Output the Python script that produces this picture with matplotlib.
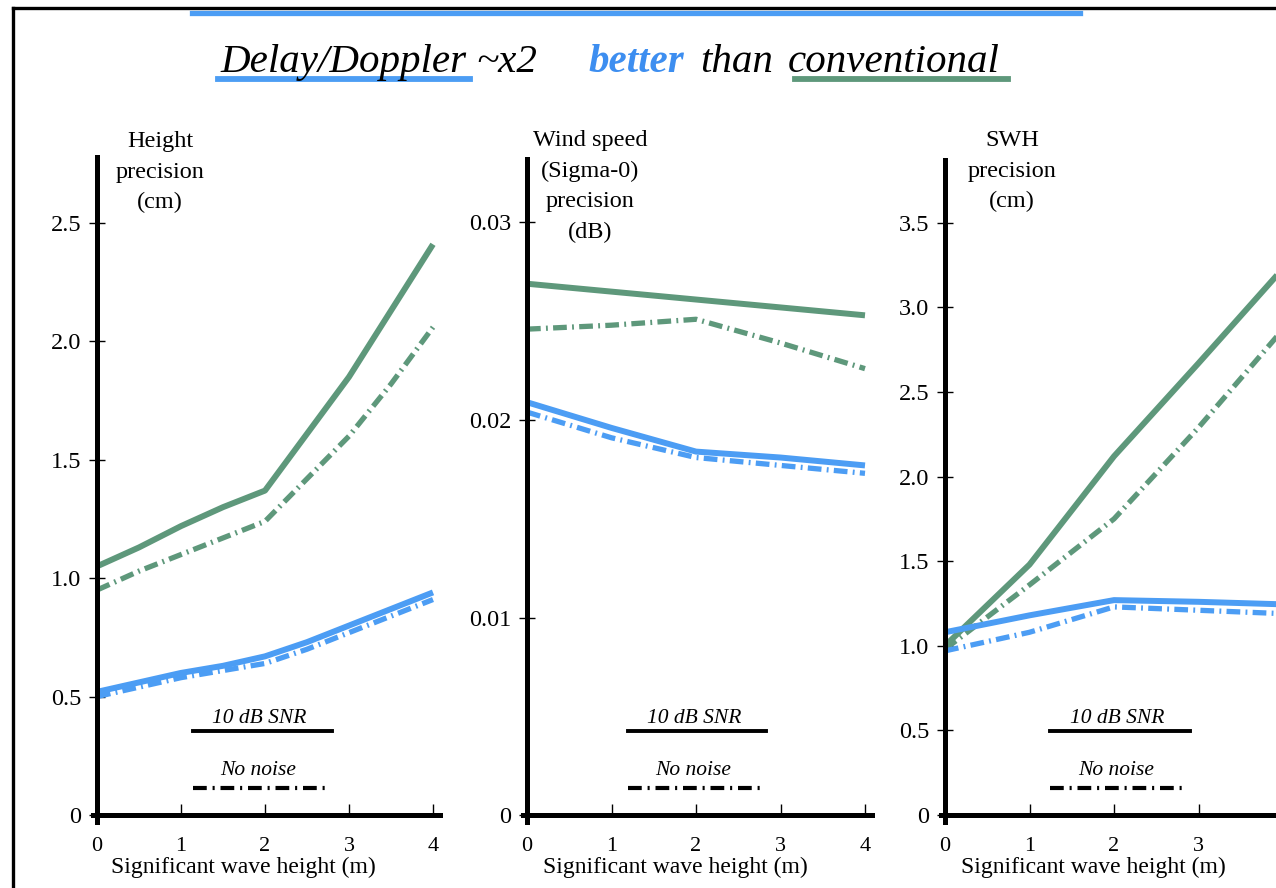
import matplotlib.pyplot as plt
from matplotlib.lines import Line2D

# figure size in pixels (dpi 100)
W, H = 1276, 888
GREEN = "#5E987B"
BLUE = "#4C9DF4"

# --- data ---
swh_fine = [0, 0.5, 1, 1.5, 2, 2.5, 3, 3.5, 4]
height_conv_snr = [1.05, 1.13, 1.22, 1.30, 1.37, 1.61, 1.85, 2.13, 2.41]
height_conv_clean = [0.95, 1.03, 1.10, 1.17, 1.24, 1.42, 1.60, 1.82, 2.06]
height_dd_snr = [0.52, 0.56, 0.60, 0.63, 0.67, 0.73, 0.80, 0.87, 0.94]
height_dd_clean = [0.50, 0.54, 0.58, 0.61, 0.64, 0.70, 0.77, 0.84, 0.91]

swh = [0, 1, 2, 3, 4]
wind_conv_snr = [0.0269, 0.0265, 0.0261, 0.0257, 0.0253]
wind_conv_clean = [0.0246, 0.0248, 0.0251, 0.0239, 0.0226]
wind_dd_snr = [0.0209, 0.0196, 0.0184, 0.0181, 0.0177]
wind_dd_clean = [0.0204, 0.0191, 0.0181, 0.0177, 0.0173]

swh_conv_snr = [1.00, 1.48, 2.12, 2.67, 3.23]
swh_conv_clean = [0.98, 1.36, 1.75, 2.29, 2.87]
swh_dd_snr = [1.08, 1.18, 1.27, 1.26, 1.245]
swh_dd_clean = [0.97, 1.08, 1.23, 1.21, 1.19]

height_ticks = [0, 0.5, 1.0, 1.5, 2.0, 2.5]
height_tick_labels = ["0", "0.5", "1.0", "1.5", "2.0", "2.5"]
wind_ticks = [0, 0.01, 0.02, 0.03]
wind_tick_labels = ["0", "0.01", "0.02", "0.03"]
swhp_ticks = [0, 0.5, 1.0, 1.5, 2.0, 2.5, 3.0, 3.5]
swhp_tick_labels = ["0", "0.5", "1.0", "1.5", "2.0", "2.5", "3.0", "3.5"]
x_ticks = [0, 1, 2, 3, 4]

plt.rcParams['font.family'] = ['Liberation Serif', 'DejaVu Serif']

fig = plt.figure(figsize=(W / 100, H / 100), dpi=100)


def fx(x):
    return x / W


def fy(y):
    return 1 - y / H


def make_panel(x0, x_unit, y_unit, ymax, yticks, ylabels):
    # x0: pixel position of x=0, y axis zero sits at pixel row 815
    x_lo, x_hi = -0.05, 4.08
    y_lo = -7.0 / y_unit
    left = x0 + x_lo * x_unit
    width = (x_hi - x_lo) * x_unit
    bottom = 815 - y_lo * y_unit
    height = (ymax - y_lo) * y_unit
    ax = fig.add_axes([fx(left), fy(bottom), width / W, height / H])
    ax.set_xlim(x_lo, x_hi)
    ax.set_ylim(y_lo, ymax)
    for s in ["top", "right"]:
        ax.spines[s].set_visible(False)
    ax.spines["left"].set_position(("data", 0))
    ax.spines["bottom"].set_position(("data", 0))
    ax.spines["left"].set_linewidth(3.6)
    ax.spines["bottom"].set_linewidth(3.6)
    ax.set_xticks(x_ticks)
    ax.set_xticklabels([str(t) for t in x_ticks])
    ax.set_yticks(yticks)
    ax.set_yticklabels(ylabels)
    ax.tick_params(axis="y", direction="inout", length=11, width=1.0,
                   pad=6, labelsize=17.5)
    ax.tick_params(axis="x", direction="in", length=8, width=1.0,
                   pad=16, labelsize=16)
    ax.patch.set_alpha(0)
    return ax


def draw_series(ax, x, snr_conv, clean_conv, snr_dd, clean_dd):
    dashdot = (0, (2.6, 1.0, 0.35, 1.0))
    ax.plot(x, snr_conv, color=GREEN, lw=4.3, solid_capstyle="butt")
    ax.plot(x, clean_conv, color=GREEN, lw=3.8, linestyle=dashdot)
    ax.plot(x, snr_dd, color=BLUE, lw=4.3, solid_capstyle="butt")
    ax.plot(x, clean_dd, color=BLUE, lw=3.8, linestyle=dashdot)


def legend_block(x_start, x_end):
    cx = (x_start + x_end) / 2
    fig.text(fx(cx - 3), fy(723), "10 dB SNR", ha="center", va="baseline",
             fontsize=15.5, style="italic")
    fig.add_artist(Line2D([fx(x_start), fx(x_end)], [fy(731), fy(731)],
                          color="black", lw=2.8))
    fig.text(fx(cx - 4), fy(775), "No noise", ha="center", va="baseline",
             fontsize=15.5, style="italic")
    fig.add_artist(Line2D([fx(x_start), fx(x_end - 5)], [fy(788), fy(788)],
                          color="black", lw=3.0,
                          linestyle=(0, (3.3, 1.4, 0.5, 1.4))))


# 1. Height precision panel
ax1 = make_panel(97, 84, 236.8, 2.78, height_ticks, height_tick_labels)
draw_series(ax1, swh_fine, height_conv_snr, height_conv_clean,
            height_dd_snr, height_dd_clean)

# 2. Wind speed (sigma-0) panel
ax2 = make_panel(527, 84.5, 19750, 0.0332, wind_ticks, wind_tick_labels)
draw_series(ax2, swh, wind_conv_snr, wind_conv_clean,
            wind_dd_snr, wind_dd_clean)

# 3. SWH precision panel (cut at the right edge like the slide)
ax3 = make_panel(945, 84.5, 169.2, 3.87, swhp_ticks, swhp_tick_labels)
draw_series(ax3, swh, swh_conv_snr, swh_conv_clean,
            swh_dd_snr, swh_dd_clean)

# y axis titles
ylab_kw = dict(ha="center", va="top", fontsize=17.5, linespacing=1.6)
fig.text(fx(160), fy(131), "Height\nprecision\n(cm)", **ylab_kw)
fig.text(fx(590), fy(130), "Wind speed\n(Sigma-0)\nprecision\n(dB)", **ylab_kw)
fig.text(fx(1012), fy(130), "SWH\nprecision\n(cm)", **ylab_kw)

# x axis titles
for cx in [243, 675, 1093]:
    fig.text(fx(cx), fy(873), "Significant wave height (m)", ha="center",
             va="baseline", fontsize=17)

# legend blocks
legend_block(193, 332)
legend_block(628, 766)
legend_block(1050, 1190)

# slide frame and top accent line
fig.add_artist(Line2D([fx(13), fx(13)], [0, fy(8)], color="black", lw=2.4))
fig.add_artist(Line2D([fx(13), 1], [fy(8), fy(8)], color="black", lw=2.4))
fig.add_artist(Line2D([fx(192), fx(1080)], [fy(13), fy(13)], color=BLUE, lw=3.8))

# headline
fig.text(fx(220), fy(72), "Delay/Doppler", fontsize=29.5, style="italic", va="baseline")
fig.text(fx(476), fy(72), "~x2", fontsize=29.5, style="italic", va="baseline")
fig.text(fx(588), fy(72), "better", fontsize=29.5, style="italic", weight="bold",
         color="#3D8EF0", va="baseline")
fig.text(fx(700), fy(72), "than", fontsize=29.5, style="italic", va="baseline")
fig.text(fx(788), fy(72), "conventional", fontsize=29.5, style="italic", va="baseline")
fig.add_artist(Line2D([fx(218), fx(470)], [fy(79), fy(79)], color=BLUE, lw=4.2))
fig.add_artist(Line2D([fx(795), fx(1008)], [fy(79), fy(79)], color=GREEN, lw=4.2))

plt.savefig("out.png", dpi=100)
